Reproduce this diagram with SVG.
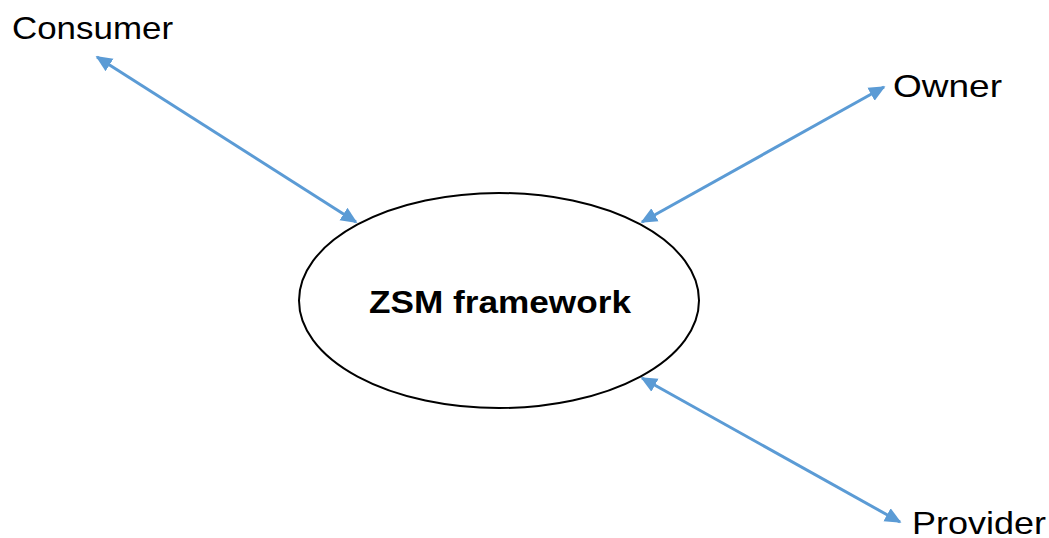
<svg xmlns="http://www.w3.org/2000/svg" width="1049" height="538" viewBox="0 0 1049 538">
<style>
.lbl{font-family:"Liberation Sans",Arial,sans-serif;font-size:32px;fill:#000}
.title{font-family:"Liberation Sans",Arial,sans-serif;font-size:31px;font-weight:bold;fill:#000}
.conn{stroke:#5B9BD5;stroke-width:3;fill:none;marker-start:url(#ah);marker-end:url(#ah)}
</style>
<defs>
<marker id="ah" viewBox="0 0 10 10" refX="9" refY="5" markerWidth="5.5" markerHeight="5.5" orient="auto-start-reverse" markerUnits="strokeWidth">
<path d="M0,0.5 L10,5 L0,9.5 z" fill="#5B9BD5"/>
</marker>
</defs>
<rect width="1049" height="538" fill="#fff"/>
<g id="connectors">
<line class="conn" x1="97" y1="57" x2="356" y2="222"/>
<line class="conn" x1="884" y1="87" x2="642" y2="222"/>
<line class="conn" x1="642" y1="378" x2="900" y2="522"/>
</g>
<g id="zsm">
<ellipse cx="499" cy="300.5" rx="200" ry="107.5" fill="#fff" stroke="#000" stroke-width="2"/>
<text class="title" x="500" y="313" text-anchor="middle" textLength="262" lengthAdjust="spacingAndGlyphs">ZSM framework</text>
</g>
<g id="consumer"><text class="lbl" x="12" y="39" textLength="161" lengthAdjust="spacingAndGlyphs">Consumer</text></g>
<g id="owner"><text class="lbl" x="893" y="97" textLength="109" lengthAdjust="spacingAndGlyphs">Owner</text></g>
<g id="provider"><text class="lbl" x="912" y="534" textLength="134" lengthAdjust="spacingAndGlyphs">Provider</text></g>
</svg>
